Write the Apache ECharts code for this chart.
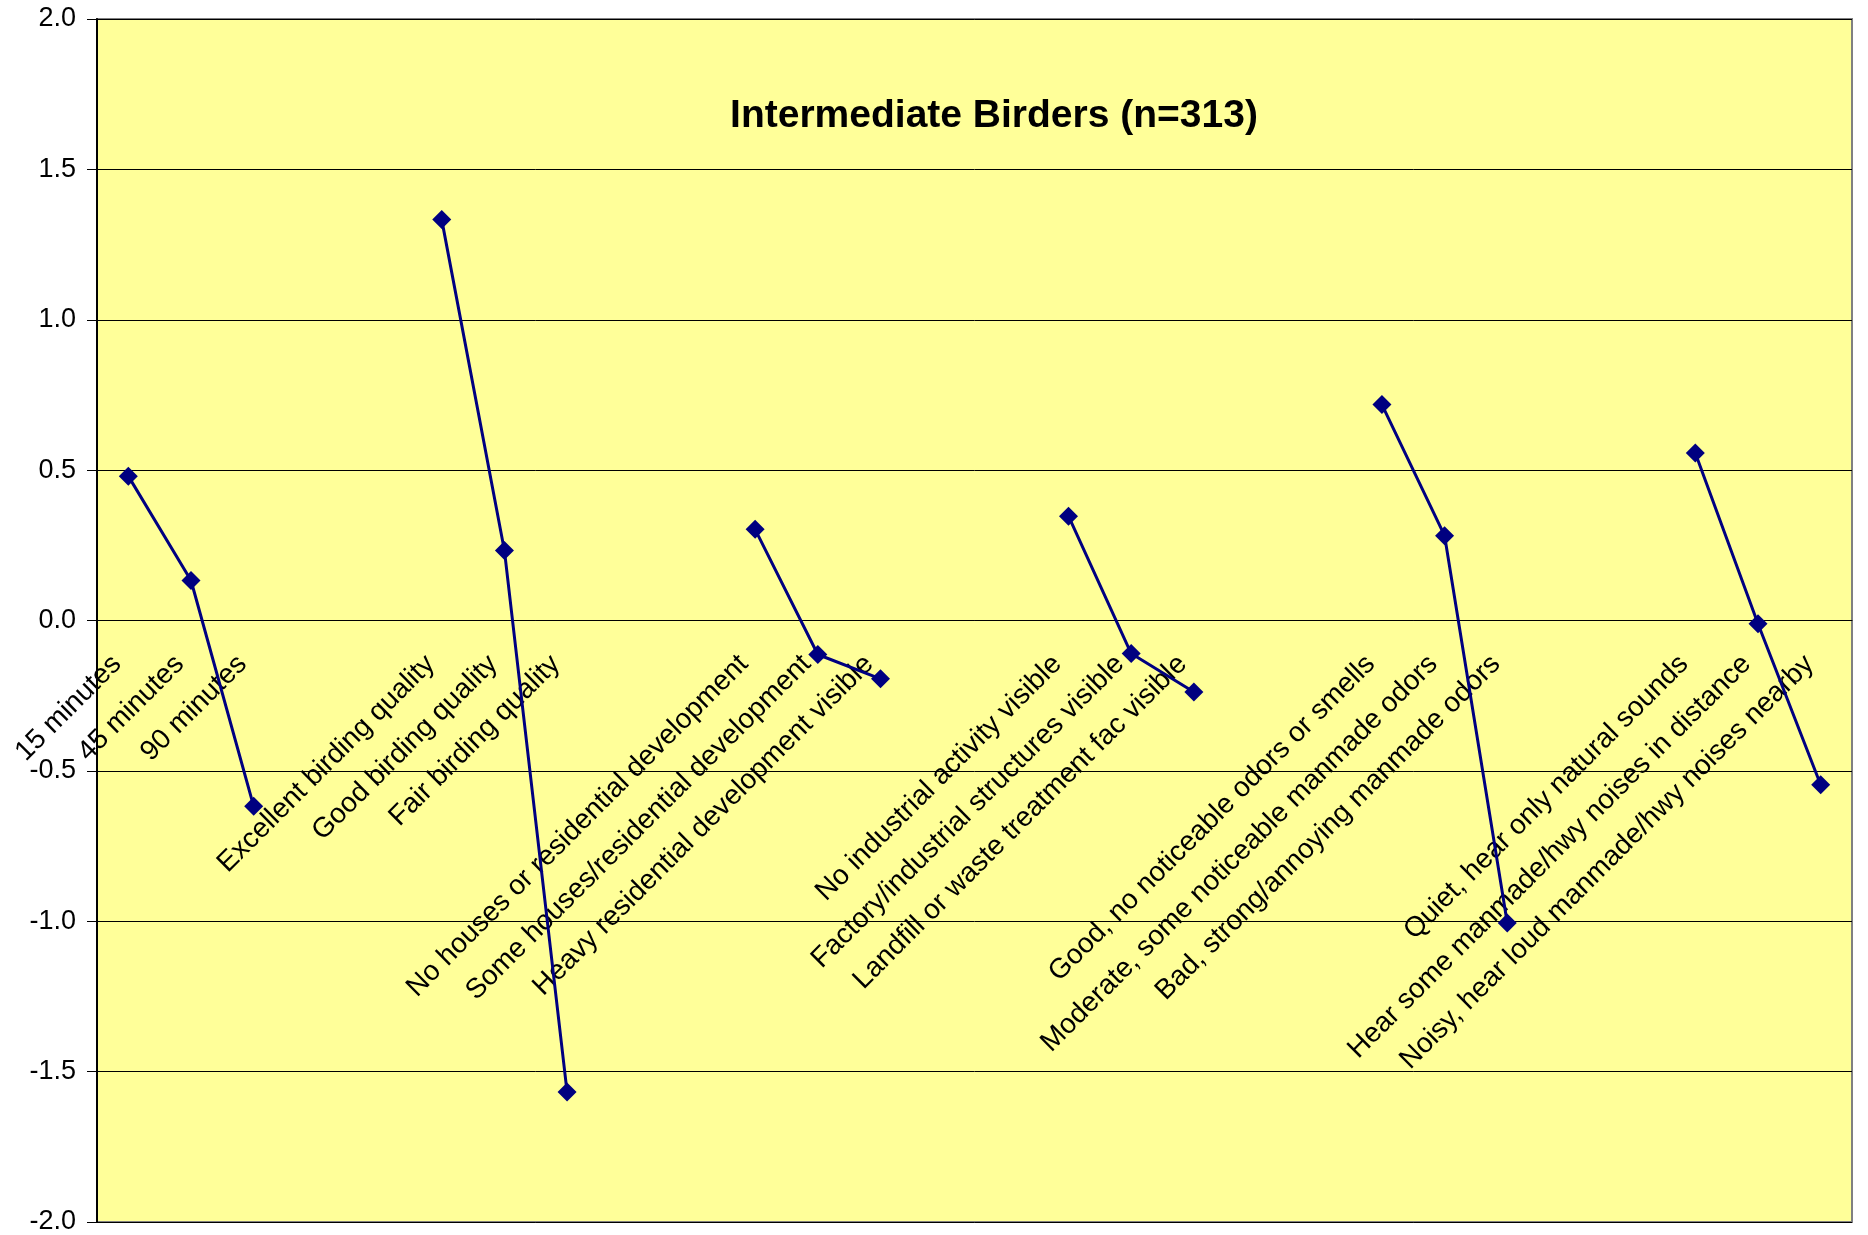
<!DOCTYPE html>
<html>
<head>
<meta charset="utf-8">
<script src="https://cdn.jsdelivr.net/npm/echarts@6/dist/echarts.min.js"></script>
<style>
  html, body { margin: 0; padding: 0; background: #fff; }
  #chart { width: 1868px; height: 1235px; }
</style>
</head>
<body>
<div id="chart"></div>
<script>
// categories: 6 groups of 3, with 2 empty slots between groups
var categories = [
  '15 minutes', '45 minutes', '90 minutes', '', '',
  'Excellent birding quality', 'Good birding quality', 'Fair birding quality', '', '',
  'No houses or residential development', 'Some houses/residential development', 'Heavy residential development visible', '', '',
  'No industrial activity visible', 'Factory/industrial structures visible', 'Landfill or waste treatment fac visible', '', '',
  'Good, no noticeable odors or smells', 'Moderate, some noticeable manmade odors', 'Bad, strong/annoying manmade odors', '', '',
  'Quiet, hear only natural sounds', 'Hear some manmade/hwy noises in distance', 'Noisy, hear loud manmade/hwy noises nearby'
]

// part-worth values (null = gap between attributes)
var values = [
  0.480, 0.133, -0.618, null, null,
  1.333, 0.233, -1.568, null, null,
  0.303, -0.113, -0.194, null, null,
  0.347, -0.110, -0.238, null, null,
  0.718, 0.282, -1.006, null, null,
  0.557, -0.011, -0.546
]

var yTicks = { min: -2, max: 2, step: 0.5 }

var font = 'Arial, "Liberation Sans", sans-serif'
var W = 1868, H = 1235
var gridTop = 19, gridBottom = 13
// the category labels sit on the zero line, as in the original
var zeroOffset = -((H - gridBottom) - (gridTop + (H - gridTop - gridBottom) / 2))

var chart = echarts.init(document.getElementById('chart'))

chart.setOption({
  animation: false,
  backgroundColor: '#ffffff',
  title: {
    text: 'Intermediate Birders (n=313)',
    left: 989,
    top: 92,
    textAlign: 'center',
    textStyle: {
      fontFamily: font,
      fontSize: 39,
      fontWeight: 'bold',
      color: '#000'
    }
  },
  grid: {
    left: 97,
    right: 16,
    top: gridTop,
    bottom: gridBottom,
    containLabel: false,
    outerBoundsMode: 'none',
    show: true,
    backgroundColor: '#FFFF99',
    borderColor: '#808080',
    borderWidth: 2
  },
  xAxis: {
    type: 'category',
    data: categories,
    boundaryGap: true,
    position: 'bottom',
    offset: zeroOffset,
    axisLine: { onZero: false, lineStyle: { color: '#000', width: 1 } },
    axisTick: { show: false },
    splitLine: { show: false },
    axisLabel: {
      interval: 0,
      rotate: 45,
      margin: 28,
      padding: [0, 16, 0, 0],
      fontFamily: font,
      fontSize: 28,
      color: '#000'
    }
  },
  yAxis: {
    type: 'value',
    min: yTicks.min,
    max: yTicks.max,
    interval: yTicks.step,
    axisLine: { show: true, lineStyle: { color: '#000', width: 2 } },
    axisTick: { show: true, inside: false, length: 10, lineStyle: { color: '#000' } },
    splitLine: { show: true, lineStyle: { color: '#000', width: 1 } },
    axisLabel: {
      margin: 21,
      fontFamily: font,
      fontSize: 27,
      color: '#000',
      formatter: function (v) { return v.toFixed(1) }
    }
  },
  series: [
    {
      type: 'line',
      data: values,
      connectNulls: false,
      symbol: 'diamond',
      symbolSize: 19,
      lineStyle: { color: '#000080', width: 3 },
      itemStyle: { color: '#000080' }
    }
  ]
})
</script>
</body>
</html>
